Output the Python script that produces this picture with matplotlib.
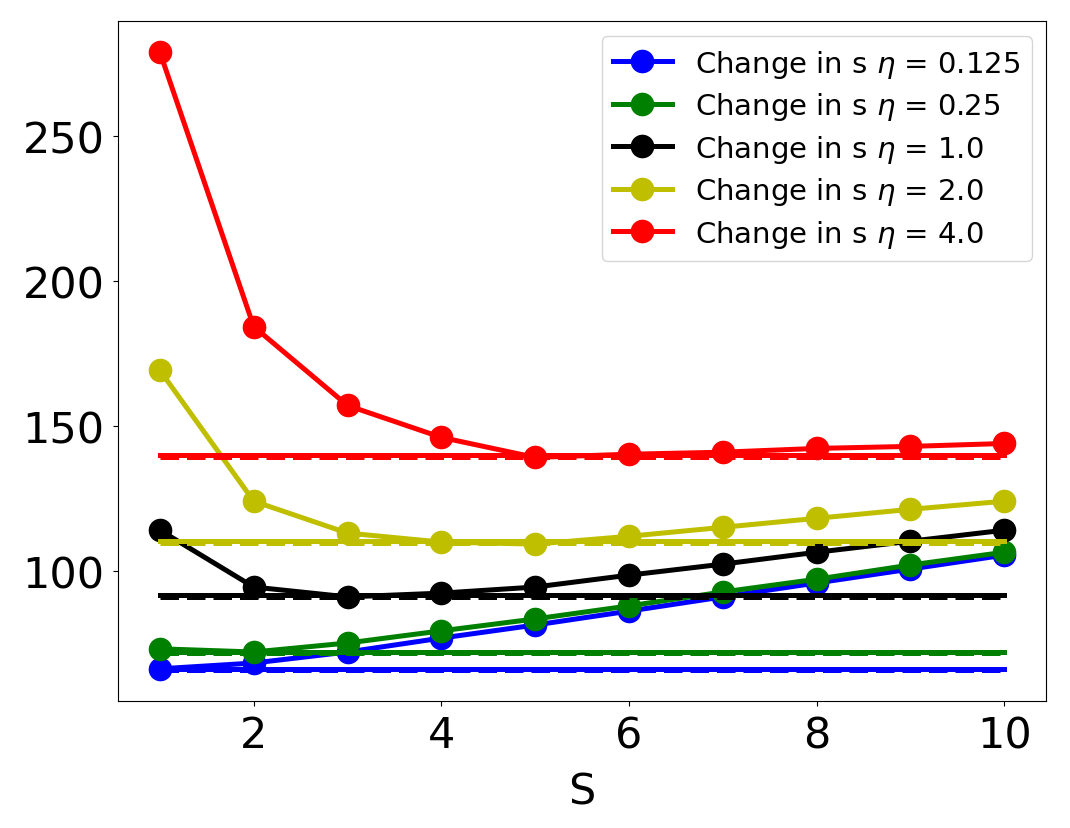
import matplotlib; matplotlib.use("Agg")
import matplotlib.pyplot as plt

S = [1, 2, 3, 4, 5, 6, 7, 8, 9, 10]
etas = ["0.125", "0.25", "1.0", "2.0", "4.0"]
colors = ["b", "g", "k", "y", "r"]

vals_0125 = [66.3, 68.3, 72.1, 76.9, 81.4, 86.2, 91.1, 95.9, 100.7, 105.5]
vals_025 = [73.2, 72.1, 75.2, 79.4, 83.5, 88.0, 92.8, 97.2, 102.1, 106.5]
vals_1 = [114.1, 94.5, 91.1, 92.4, 94.5, 98.6, 102.4, 106.5, 110.3, 114.1]
vals_2 = [169.2, 124.1, 113.1, 110.0, 109.3, 112.0, 115.1, 118.2, 121.3, 124.1]
vals_4 = [278.9, 184.3, 157.1, 146.1, 139.2, 140.3, 141.0, 142.3, 143.0, 144.0]
series = [vals_0125, vals_025, vals_1, vals_2, vals_4]

# reference levels (solid) and the nearly-equal dashed ones drawn just under them
ref_solid = [66.3, 72.1, 91.7, 110.3, 139.9]
ref_dashed = [65.8, 71.6, 91.2, 109.7, 139.3]

fig, ax = plt.subplots(figsize=(10.7, 8.29), dpi=100)
for c, e, v, r1, r2 in zip(colors, etas, series, ref_solid, ref_dashed):
    ax.plot(S, v, "-o", color=c, lw=3.6, ms=16, label=r"Change in s $\eta$ = " + e)
    ax.plot([S[0], S[-1]], [r2, r2], "--", color=c, lw=3.6)
    ax.plot([S[0], S[-1]], [r1, r1], "-", color=c, lw=3.6)

ax.set_xlabel("S", fontsize=31, labelpad=10)
ax.tick_params(labelsize=31, pad=6)
ax.set_xticks([2, 4, 6, 8, 10])
ax.set_yticks([100, 150, 200, 250])
ax.legend(fontsize=21, loc="upper right", labelspacing=0.36)
fig.subplots_adjust(left=0.11, right=0.978, top=0.973, bottom=0.153)
fig.savefig("out.png", dpi=100)
